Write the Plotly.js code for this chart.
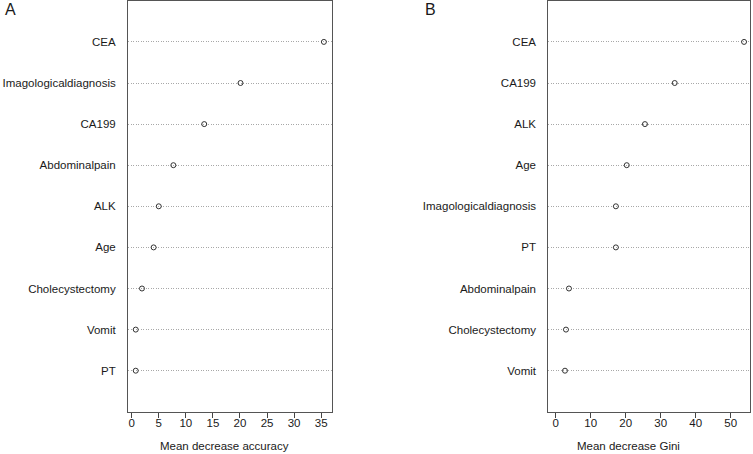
<!DOCTYPE html>
<html>
<head>
<meta charset="utf-8">
<script src="https://cdn.plot.ly/plotly-3.0.1.min.js"></script>
<style>html,body{margin:0;padding:0;background:#fff;}#chart{width:753px;height:454px;}</style>
</head>
<body>
<div id="chart"></div>
<script>
// Panel A: Mean decrease accuracy (listed bottom to top)
const catsA = ["PT", "Vomit", "Cholecystectomy", "Age", "ALK", "Abdominalpain", "CA199", "Imagologicaldiagnosis", "CEA"];
const valsA = [0.75, 0.75, 1.9, 4.05, 5.0, 7.7, 13.4, 20.1, 35.5];
// Panel B: Mean decrease Gini (listed bottom to top)
const catsB = ["Vomit", "Cholecystectomy", "Abdominalpain", "PT", "Imagologicaldiagnosis", "Age", "ALK", "CA199", "CEA"];
const valsB = [2.66, 2.95, 3.8, 17.2, 17.2, 20.3, 25.5, 34.0, 53.8];
const ticksA = [0, 5, 10, 15, 20, 25, 30, 35];
const ticksB = [0, 10, 20, 30, 40, 50];

const pos = catsA.map((_, i) => i + 1);
const W = 753, H = 454;
const font = {family: "Liberation Sans, Arial, sans-serif", size: 11.5, color: "#1a1a1a"};
const marker = {symbol: "circle-open", size: 5, color: "#333", line: {width: 1, color: "#333"}};

const traces = [
  {x: valsA, y: pos, type: "scatter", mode: "markers", marker: marker, xaxis: "x", yaxis: "y", hoverinfo: "x+text", text: catsA},
  {x: valsB, y: pos, type: "scatter", mode: "markers", marker: marker, xaxis: "x2", yaxis: "y2", hoverinfo: "x+text", text: catsB}
];

const yDom = [(H - 411.8) / H, (H - 0.8) / H];
const baseY = {
  range: [0, 10], tickvals: pos, showgrid: true, gridcolor: "#a8a8a8", griddash: "1px,1.5px", gridwidth: 1,
  zeroline: false, ticks: "", showline: true, linecolor: "#555", linewidth: 1, mirror: true,
  tickfont: font, ticklabelstandoff: 9, fixedrange: true, domain: yDom
};
const baseX = {
  showgrid: false, zeroline: false, ticks: "outside", ticklen: 5, tickcolor: "#444", tickwidth: 1,
  showline: true, linecolor: "#555", linewidth: 1, mirror: true, tickfont: font, fixedrange: true,
  ticklabelstandoff: -5
};

const layout = {
  width: W, height: H,
  margin: {l: 0, r: 0, t: 0, b: 0},
  paper_bgcolor: "#fff", plot_bgcolor: "#fff",
  showlegend: false,
  font: font,
  xaxis: Object.assign({}, baseX, {domain: [128 / W, 332 / W], range: [-0.68, 37.0], tickvals: ticksA, anchor: "y"}),
  yaxis: Object.assign({}, baseY, {ticktext: catsA, anchor: "x"}),
  xaxis2: Object.assign({}, baseX, {domain: [548.3 / W, 750 / W], range: [-2.1, 55.5], tickvals: ticksB, anchor: "y2"}),
  yaxis2: Object.assign({}, baseY, {ticktext: catsB, anchor: "x2"}),
  annotations: [
    {text: "A", xref: "paper", yref: "paper", x: 3 / W, y: 1 - 10 / H, xanchor: "left", yanchor: "middle", showarrow: false, font: {family: font.family, size: 16, color: "#1a1a1a"}},
    {text: "B", xref: "paper", yref: "paper", x: 423 / W, y: 1 - 10 / H, xanchor: "left", yanchor: "middle", showarrow: false, font: {family: font.family, size: 16, color: "#1a1a1a"}},
    {text: "Mean decrease accuracy", xref: "paper", yref: "paper", x: 224 / W, y: 1 - 446 / H, xanchor: "center", yanchor: "middle", showarrow: false, font: font},
    {text: "Mean decrease Gini", xref: "paper", yref: "paper", x: 628 / W, y: 1 - 446 / H, xanchor: "center", yanchor: "middle", showarrow: false, font: font}
  ]
};

Plotly.newPlot("chart", traces, layout, {displayModeBar: false, staticPlot: true});
</script>
</body>
</html>
